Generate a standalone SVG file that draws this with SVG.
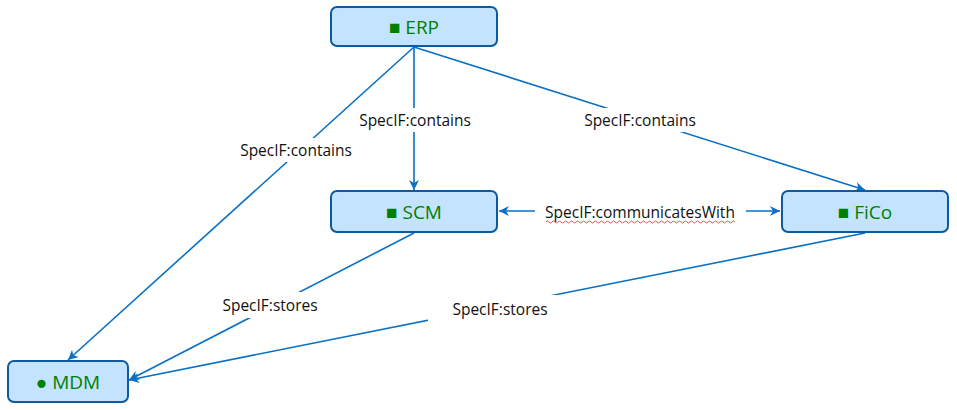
<svg xmlns="http://www.w3.org/2000/svg" width="957" height="410" viewBox="0 0 957 410">
<defs>
<marker id="arr" viewBox="0 0 10 10" refX="10" refY="5" markerWidth="10" markerHeight="10" markerUnits="userSpaceOnUse" orient="auto-start-reverse">
<path d="M0,0 L10,5 L0,10 L3,5 Z" fill="#0a70c4"/>
</marker>
<style>
.node rect{fill:#c4e3ff;stroke:#0d5a9e;stroke-width:2}
.node text{font-family:"Open Sans","Noto Sans",sans-serif;font-size:19px;fill:#008000;text-anchor:middle;dominant-baseline:central}
.edge{stroke:#0a70c4;stroke-width:1.6;fill:none}
.lbl{font-family:"Open Sans","Noto Sans",sans-serif;font-size:15.5px;fill:#111;text-anchor:middle;dominant-baseline:central}
.bg{fill:#fff}
</style>
</defs>
<g id="connectors">
<line class="edge" x1="414" y1="47" x2="414" y2="190" marker-end="url(#arr)"/>
<line class="edge" x1="414" y1="47" x2="865" y2="190" marker-end="url(#arr)"/>
<line class="edge" x1="414" y1="47" x2="68" y2="360" marker-end="url(#arr)"/>
<line class="edge" x1="499" y1="211" x2="780" y2="211" marker-start="url(#arr)" marker-end="url(#arr)"/>
<line class="edge" x1="414" y1="233" x2="129" y2="380" marker-end="url(#arr)"/>
<line class="edge" x1="865" y1="233" x2="129" y2="380" marker-end="url(#arr)"/>
<rect class="bg" x="356" y="108" width="118" height="24"/>
<text class="lbl" x="415" y="120">SpecIF:contains</text>
<rect class="bg" x="581" y="108" width="118" height="24"/>
<text class="lbl" x="640" y="120">SpecIF:contains</text>
<rect class="bg" x="237" y="138" width="118" height="24"/>
<text class="lbl" x="296" y="150">SpecIF:contains</text>
<rect class="bg" x="535" y="201" width="211" height="22"/>
<text class="lbl" x="640" y="212">SpecIF:communicatesWith</text>
<path d="M546,222 q1.5,-2 3,0 t3,0 t3,0 t3,0 t3,0 t3,0 t3,0 t3,0 t3,0 t3,0 t3,0 t3,0 t3,0 t3,0 t3,0 t3,0 t3,0 t3,0 t3,0 t3,0 t3,0 t3,0 t3,0 t3,0 t3,0 t3,0 t3,0 t3,0 t3,0 t3,0 t3,0 t3,0 t3,0 t3,0 t3,0 t3,0 t3,0 t3,0 t3,0 t3,0 t3,0 t3,0 t3,0 t3,0 t3,0 t3,0 t3,0 t3,0 t3,0 t3,0 t3,0 t3,0 t3,0 t3,0 t3,0 t3,0 t3,0 t3,0 t3,0 t3,0 t3,0 t3,0 t3,0" fill="none" stroke="#e03030" stroke-width="0.8"/>
<rect class="bg" x="218" y="292" width="104" height="26"/>
<text class="lbl" x="270" y="305">SpecIF:stores</text>
<rect class="bg" x="428" y="295" width="134" height="28"/>
<text class="lbl" x="500" y="309">SpecIF:stores</text>
</g>
<g id="ERP" class="node"><rect x="331" y="7" width="166" height="39" rx="6"/><text x="414" y="27">■ ERP</text></g>
<g id="SCM" class="node"><rect x="331" y="191" width="166" height="41" rx="6"/><text x="414" y="212">■ SCM</text></g>
<g id="FiCo" class="node"><rect x="782" y="191" width="166" height="41" rx="6"/><text x="865" y="212">■ FiCo</text></g>
<g id="MDM" class="node"><rect x="8" y="361" width="120" height="41" rx="6"/><text x="68" y="382">● MDM</text></g>
</svg>
